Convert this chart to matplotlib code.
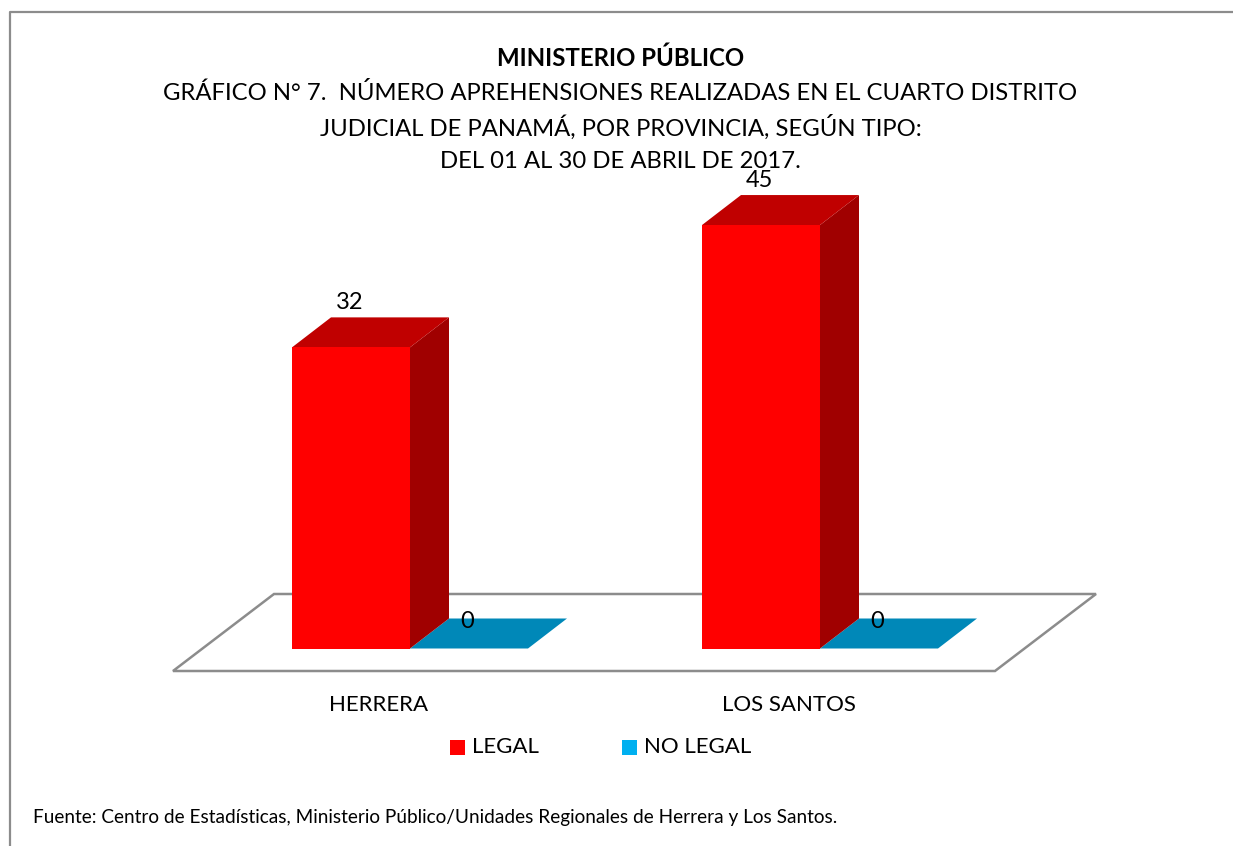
import matplotlib
matplotlib.use('Agg')
import matplotlib.pyplot as plt
from matplotlib.patches import Polygon

plt.rcParams['font.family'] = ['Lato', 'DejaVu Sans']

# data
provinces = ['HERRERA', 'LOS SANTOS']
legal = [32, 45]
no_legal = [0, 0]

W, H = 1233, 846
PX_PER_CAT = 410.0    # pixels between the two provinces
PX_PER_UNIT = 9.41    # pixels per apprehension
X0, Y0 = 410.0, 648.5 # pixel of first group centre / zero line

fig = plt.figure(figsize=(W / 100, H / 100), dpi=100)
ax = fig.add_axes([0, 0, 1, 1])
ax.set_xlim(-X0 / PX_PER_CAT, (W - X0) / PX_PER_CAT)
ax.set_ylim((Y0 - H) / PX_PER_UNIT, Y0 / PX_PER_UNIT)
ax.axis('off')

bar_w = 118 / PX_PER_CAT
dx = 39 / PX_PER_CAT    # 3d depth
dy = 30 / PX_PER_UNIT


def px(x, y):
    # figure pixel (from top left) to data coords
    return (x - X0) / PX_PER_CAT, (Y0 - y) / PX_PER_UNIT


# outer frame, only top and left are visible
fig.add_artist(plt.Line2D([9.5 / W, 9.5 / W, 1], [0, 1 - 12.5 / H, 1 - 12.5 / H],
                          color='#8c8c8c', lw=1.6))

# floor
floor = [px(173, 671), px(995, 671), px(1096, 594), px(274, 594)]
ax.add_patch(Polygon(floor, closed=True, fc='white', ec='#8c8c8c', lw=1.8, zorder=1))

xs = list(range(len(provinces)))
for i in xs:
    # blue series, only the top face shows because the values are 0
    left = i
    y = no_legal[i]
    ax.add_patch(Polygon([(left, y), (left + bar_w, y), (left + bar_w + dx, y + dy), (left + dx, y + dy)],
                         closed=True, fc='#0088B8', ec='none', zorder=2))
    # red series side and top face
    h = legal[i]
    ax.add_patch(Polygon([(i, 0), (i + dx, dy), (i + dx, h + dy), (i, h)],
                         closed=True, fc='#A00000', ec='none', zorder=3))
    ax.add_patch(Polygon([(i - bar_w, h), (i, h), (i + dx, h + dy), (i - bar_w + dx, h + dy)],
                         closed=True, fc='#C00000', ec='none', zorder=3))

ax.bar([i - bar_w / 2 for i in xs], legal, width=bar_w, color='#FF0000', zorder=4)

# value labels
for i in xs:
    ax.text(i - 0.148, legal[i] + dy + 4.2 / PX_PER_UNIT, str(legal[i]), ha='center', va='bottom',
            fontsize=17, color='black', zorder=6)
    ax.text(i + 0.139, no_legal[i] + 2.85, str(no_legal[i]), ha='center', va='center',
            fontsize=17, color='black', zorder=6)

# category labels
for i, name in enumerate(provinces):
    x, y = px(379 + i * 410, 705)
    ax.text(i - 31 / PX_PER_CAT, y, name, ha='center', va='center', fontsize=16)

# legend
fig.patches.append(plt.Rectangle((450 / W, 1 - 755 / H), 15 / W, 15 / H, transform=fig.transFigure, fc='#FF0000', ec='none'))
fig.patches.append(plt.Rectangle((622 / W, 1 - 755 / H), 15 / W, 15 / H, transform=fig.transFigure, fc='#00B0F0', ec='none'))
fig.text(472 / W, 1 - 747 / H, 'LEGAL', ha='left', va='center', fontsize=16)
fig.text(644 / W, 1 - 747 / H, 'NO LEGAL', ha='left', va='center', fontsize=16)

# title
fig.text(620.5 / W, 1 - 58 / H, 'MINISTERIO PÚBLICO', ha='center', va='center', fontsize=17.3, fontweight='bold')
fig.text(620.5 / W, 1 - 93 / H, 'GRÁFICO N° 7.  NÚMERO APREHENSIONES REALIZADAS EN EL CUARTO DISTRITO',
         ha='center', va='center', fontsize=17.2)
fig.text(620.5 / W, 1 - 127 / H, 'JUDICIAL DE PANAMÁ, POR PROVINCIA, SEGÚN TIPO:', ha='center', va='center', fontsize=17.2)
fig.text(620.5 / W, 1 - 161 / H, 'DEL 01 AL 30 DE ABRIL DE 2017.', ha='center', va='center', fontsize=17.2)

# source
fig.text(33 / W, 1 - 817 / H, 'Fuente: Centro de Estadísticas, Ministerio Público/Unidades Regionales de Herrera y Los Santos.',
         ha='left', va='center', fontsize=13.7)

fig.savefig('out.png', dpi=100)
